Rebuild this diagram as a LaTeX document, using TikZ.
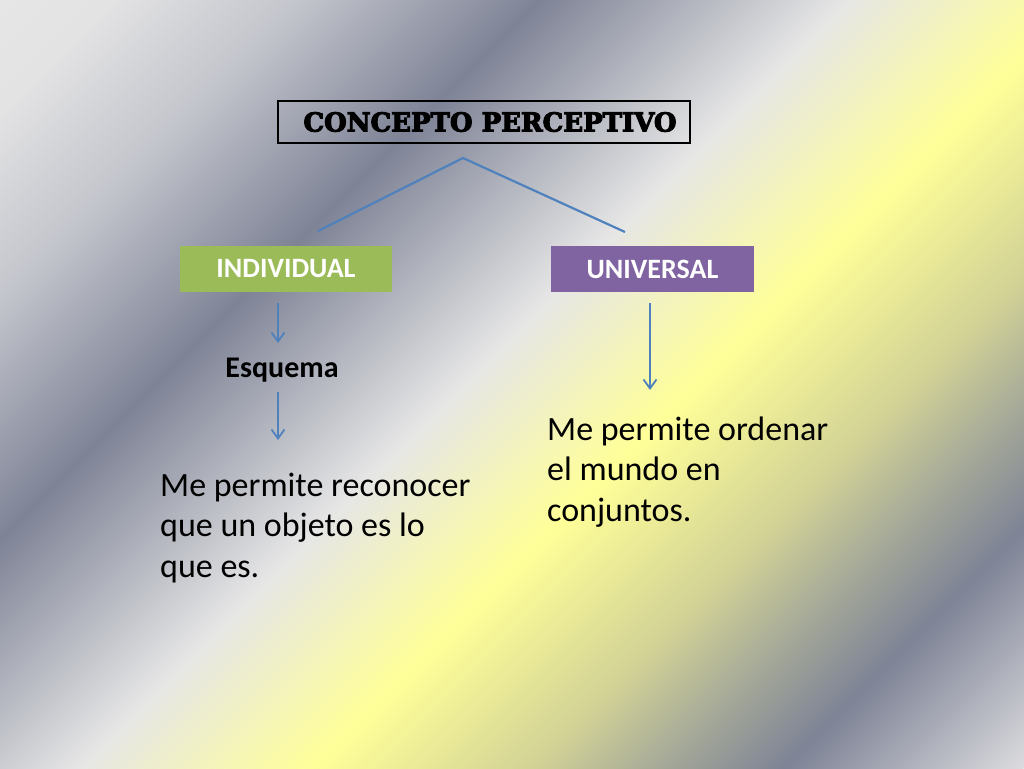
\documentclass[tikz,border=0pt]{standalone}
\usepackage{fontspec}
\setmainfont{Carlito}
\newfontfamily\titlefont[BoldFeatures={FakeBold=4}]{DejaVu Serif}
\usetikzlibrary{arrows.meta}
\definecolor{bgA}{HTML}{E6E6E6}
\definecolor{bgB}{HTML}{E3E3E4}
\definecolor{bgC}{HTML}{C3C5CC}
\definecolor{bgDark}{HTML}{7E8396}
\definecolor{bgLight}{HTML}{E6E6E6}
\definecolor{bgYellow}{HTML}{FFFF99}
\definecolor{bgOlive}{HTML}{D2D296}
\definecolor{bgOlive2}{HTML}{A4A898}
\definecolor{bgEnd}{HTML}{DCDCDF}
\definecolor{indgreen}{HTML}{9BBB59}
\definecolor{unipurple}{HTML}{8064A2}
\definecolor{linkblue}{HTML}{4F81BD}
\pgfdeclarehorizontalshading{bgshade}{100bp}{color(0bp)=(bgA); color(25bp)=(bgA); color(28.07bp)=(bgB); color(33.37bp)=(bgC); color(40.07bp)=(bgDark); color(48.58bp)=(bgLight); color(55.13bp)=(bgYellow); color(61.27bp)=(bgOlive); color(64.9bp)=(bgOlive2); color(68.3bp)=(bgDark); color(75bp)=(bgEnd); color(100bp)=(bgEnd)}
\tikzset{
  tbox/.style={draw=black, line width=1.4pt, minimum width=412pt, minimum height=42pt, inner sep=0pt,
    font=\titlefont\fontsize{26}{32}\selectfont\bfseries},
  cbox/.style={minimum height=46pt, inner sep=0pt, text=white,
    font=\fontsize{28}{32}\selectfont\bfseries},
  body/.style={font=\fontsize{34}{40.5}\selectfont, align=left, inner sep=0pt},
  link/.style={draw=linkblue, line width=2.2pt},
  arr/.style={draw=linkblue, line width=1.8pt, -{Straight Barb[length=9pt,width=13pt]}}
}
\begin{document}
\begin{tikzpicture}[x=1pt,y=-1pt]
\useasboundingbox (0,0) rectangle (1024,768);
\begin{scope}
\clip (0,0) rectangle (1024,768);
\begin{scope}[transform canvas={rotate around={-45:(512,384)}}]
\shade[shading=bgshade] (-121.6,-416) rectangle (1145.6,1184);
\end{scope}
\end{scope}
\node[tbox] (title) at (484,122) {\hspace*{12pt}CONCEPTO PERCEPTIVO};
\node[cbox, fill=indgreen, minimum width=212pt] (ind) at (286,269) {INDIVIDUAL};
\node[cbox, fill=unipurple, minimum width=203pt] (uni) at (652.5,269) {UNIVERSAL};
\node[font=\fontsize{30}{36}\selectfont\bfseries, anchor=base, inner sep=0pt] (esq) at (282,377) {Esquema};
\node[body, anchor=base west] (txtl) at (160,577) {Me permite reconocer\\que un objeto es lo\\que es.};
\node[body, anchor=base west] (txtr) at (547,521) {Me permite ordenar\\el mundo en\\conjuntos.};
\coordinate (apex) at (463,158);
\coordinate (lft) at (318,231);
\coordinate (rgt) at (625,232);
\draw[link] (lft) -- (apex) -- (rgt);
\coordinate (a1s) at (278,303);
\coordinate (a1e) at (278,343);
\coordinate (a2s) at (278,392);
\coordinate (a2e) at (278,440);
\coordinate (a3s) at (650,303);
\coordinate (a3e) at (650,390);
\draw[arr] (a1s) -- (a1e);
\draw[arr] (a2s) -- (a2e);
\draw[arr] (a3s) -- (a3e);
\end{tikzpicture}
\end{document}
